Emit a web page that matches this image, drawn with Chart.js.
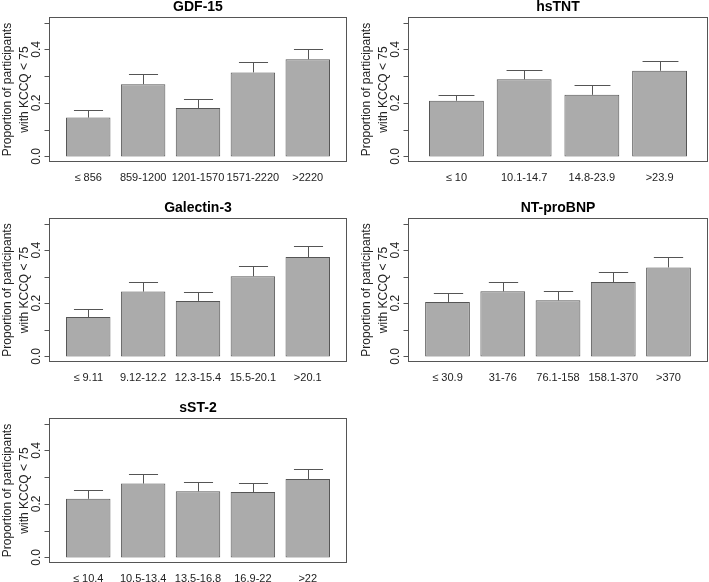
<!DOCTYPE html>
<html>
<head>
<meta charset="utf-8">
<script src="https://cdn.jsdelivr.net/npm/chart.js@4.4.1/dist/chart.umd.min.js"></script>
<style>
  body { margin: 0; background: #fff; width: 709px; height: 582px; position: relative; overflow: hidden; }
  .panel { position: absolute; }
  .panel canvas { display: block; }
</style>
</head>
<body>
<div class="panel" style="left:0;top:0"><canvas id="gdf" width="354" height="190"></canvas></div>
<div class="panel" style="left:355px;top:0"><canvas id="tnt" width="354" height="190"></canvas></div>
<div class="panel" style="left:0;top:190px"><canvas id="gal" width="354" height="195"></canvas></div>
<div class="panel" style="left:355px;top:190px"><canvas id="bnp" width="354" height="195"></canvas></div>
<div class="panel" style="left:0;top:385px"><canvas id="st2" width="354" height="197"></canvas></div>
<script>
// values
const gdfLabels = ['≤ 856', '859-1200', '1201-1570', '1571-2220', '>2220'];
const gdfValues = [0.145, 0.270, 0.181, 0.314, 0.363];
const gdfUpper = [0.175, 0.308, 0.214, 0.351, 0.401];

const tntLabels = ['≤ 10', '10.1-14.7', '14.8-23.9', '>23.9'];
const tntValues = [0.208, 0.288, 0.230, 0.320];
const tntUpper = [0.231, 0.324, 0.265, 0.356];

const galLabels = ['≤ 9.11', '9.12-12.2', '12.3-15.4', '15.5-20.1', '>20.1'];
const galValues = [0.148, 0.244, 0.209, 0.302, 0.374];
const galUpper = [0.178, 0.280, 0.244, 0.339, 0.414];

const bnpLabels = ['≤ 30.9', '31-76', '76.1-158', '158.1-370', '>370'];
const bnpValues = [0.205, 0.245, 0.211, 0.280, 0.335];
const bnpUpper = [0.237, 0.281, 0.245, 0.317, 0.375];

const st2Labels = ['≤ 10.4', '10.5-13.4', '13.5-16.8', '16.9-22', '>22'];
const st2Values = [0.219, 0.276, 0.247, 0.244, 0.293];
const st2Upper = [0.252, 0.312, 0.282, 0.278, 0.332];

const yTicks = [0, 0.1, 0.2, 0.3, 0.4, 0.5];
const yTickLabels = ['0.0', '', '0.2', '', '0.4', ''];
const yTitle = ['Proportion of participants', 'with KCCQ < 75'];

const FONT = "'Liberation Sans', Arial, Helvetica, sans-serif";
const LINE = '#555';
const CAP = 0.265;
Chart.defaults.font.family = FONT;

// box, y axis, axis title and error bars, drawn through the chart scales
const panelDecor = {
    id: 'panelDecor',
    afterDatasetsDraw(chart) {
        const ctx = chart.ctx;
        const a = chart.chartArea;
        const xs = chart.scales.x;
        const ys = chart.scales.y;
        const ds = chart.data.datasets[0];
        ctx.save();
        ctx.strokeStyle = LINE;
        ctx.lineWidth = 1;

        const hw = xs.getPixelForValue(CAP) - xs.getPixelForValue(0);
        ds.upper.forEach((u, i) => {
            const px = Math.round(xs.getPixelForValue(i)) + 0.5;
            const yTop = ys.getPixelForValue(ds.data[i].y);
            const yErr = Math.round(ys.getPixelForValue(u)) + 0.5;
            ctx.beginPath();
            ctx.moveTo(px, yTop);
            ctx.lineTo(px, yErr);
            ctx.moveTo(px - hw, yErr);
            ctx.lineTo(px + hw, yErr);
            ctx.stroke();
        });

        ctx.strokeRect(Math.round(a.left) + 0.5, Math.round(a.top) + 0.5,
            Math.round(a.right - a.left) - 1, Math.round(a.bottom - a.top) - 1);

        const ax = Math.round(a.left) + 0.5;
        ctx.beginPath();
        ctx.moveTo(ax, ys.getPixelForValue(yTicks[0]));
        ctx.lineTo(ax, ys.getPixelForValue(yTicks[yTicks.length - 1]));
        yTicks.forEach(t => {
            const py = Math.round(ys.getPixelForValue(t)) + 0.5;
            ctx.moveTo(ax, py);
            ctx.lineTo(ax - 5, py);
        });
        ctx.stroke();

        ctx.fillStyle = '#222';
        ctx.textAlign = 'center';
        ctx.textBaseline = 'middle';
        ctx.font = '12px ' + FONT;
        yTicks.forEach((t, i) => {
            if (!yTickLabels[i]) return;
            ctx.save();
            ctx.translate(a.left - 12, ys.getPixelForValue(t));
            ctx.rotate(-Math.PI / 2);
            ctx.fillText(yTickLabels[i], 0, 0);
            ctx.restore();
        });

        ctx.font = '12px ' + FONT;
        const midY = (a.top + a.bottom) / 2;
        [a.left - 41, a.left - 24].forEach((tx, i) => {
            ctx.save();
            ctx.translate(tx, midY);
            ctx.rotate(-Math.PI / 2);
            ctx.fillText(yTitle[i], 0, 0);
            ctx.restore();
        });
        ctx.restore();
    }
};

function makePanel(id, title, labels, values, upper, box) {
    const n = labels.length;
    new Chart(document.getElementById(id), {
        type: 'bar',
        data: {
            datasets: [{
                data: values.map((v, i) => ({ x: i, y: v })),
                upper: upper,
                backgroundColor: '#ababab',
                borderColor: LINE,
                borderWidth: 1,
                borderSkipped: false,
                barPercentage: 0.81,
                categoryPercentage: 1,
            }],
        },
        options: {
            responsive: false,
            animation: false,
            events: [],
            layout: {
                padding: { left: box.left, right: box.right, top: box.top, bottom: 0 },
            },
            scales: {
                x: {
                    type: 'linear',
                    offset: false,
                    min: -0.715,
                    max: n - 1 + 0.715,
                    afterBuildTicks: scale => {
                        scale.ticks = labels.map((l, i) => ({ value: i }));
                    },
                    afterFit: scale => { scale.height = box.xh; },
                    grid: { display: false, drawTicks: false },
                    border: { display: false },
                    ticks: {
                        autoSkip: false,
                        maxRotation: 0,
                        padding: 9,
                        color: '#222',
                        font: { size: 11 },
                        callback: (v, i) => labels[i],
                    },
                },
                y: {
                    display: false,
                    min: -0.021,
                    max: 0.521,
                },
            },
            plugins: {
                legend: { display: false },
                tooltip: { enabled: false },
                title: {
                    display: true,
                    text: title,
                    color: '#000',
                    font: { size: 14, weight: 'bold', lineHeight: 1 },
                    padding: { top: 0, bottom: 3 },
                },
            },
        },
        plugins: [panelDecor],
    });
}

makePanel('gdf', 'GDF-15', gdfLabels, gdfValues, gdfUpper, { left: 49, right: 7, top: 0, xh: 28 });
makePanel('tnt', 'hsTNT', tntLabels, tntValues, tntUpper, { left: 53, right: 1, top: 0, xh: 28 });
makePanel('gal', 'Galectin-3', galLabels, galValues, galUpper, { left: 49, right: 7, top: 11, xh: 23 });
makePanel('bnp', 'NT-proBNP', bnpLabels, bnpValues, bnpUpper, { left: 53, right: 1, top: 11, xh: 23 });
makePanel('st2', 'sST-2', st2Labels, st2Values, st2Upper, { left: 49, right: 7, top: 16, xh: 19 });
</script>
</body>
</html>
